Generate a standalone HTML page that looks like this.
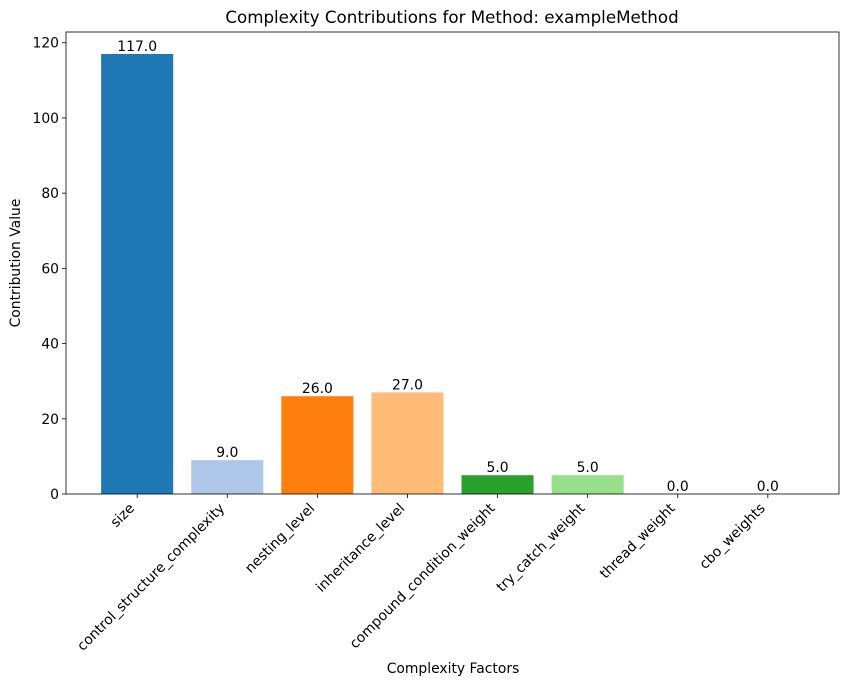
<!DOCTYPE html>
<html><head><meta charset="utf-8"><style>
body{margin:0;background:#fff;}
svg{display:block;font-family:"DejaVu Sans","Liberation Sans",sans-serif;}
</style></head><body>
<svg id="chart" width="850" height="686">
<text x="452" y="23" text-anchor="middle" font-size="16.7">Complexity Contributions for Method: exampleMethod</text>
<g id="bars"></g>
<g id="axes"></g>
<text x="453" y="673" text-anchor="middle" font-size="13.9">Complexity Factors</text>
<text transform="translate(20,263) rotate(-90)" text-anchor="middle" font-size="13.9">Contribution Value</text>
</svg>
<script>
const categories=["size","control_structure_complexity","nesting_level","inheritance_level","compound_condition_weight","try_catch_weight","thread_weight","cbo_weights"];
const values=[117,9,26,27,5,5,0,0];
const colors=["#1f77b4","#aec7e8","#ff7f0e","#ffbb78","#2ca02c","#98df8a","#d62728","#ff9896"];
const yTicks=[0,20,40,60,80,100,120];
const NS="http://www.w3.org/2000/svg";
const L=66,R=839,T=32,B=494;
const ymax=Math.max(...values)*1.05;
const y=v=>B-(v/ymax)*(B-T);
const xmin=-0.79,xmax=categories.length-1+0.79;
const x=i=>L+(i-xmin)/(xmax-xmin)*(R-L);
const unit=(R-L)/(xmax-xmin);
function mk(t,a,p){const e=document.createElementNS(NS,t);for(const k in a)e.setAttribute(k,a[k]);(p||document.getElementById('chart')).appendChild(e);return e;}
const bars=document.getElementById('bars'),axes=document.getElementById('axes');
categories.forEach((c,i)=>{
 const r=mk('rect',{x:x(i)-0.4*unit,y:y(values[i]),width:0.8*unit,height:B-y(values[i]),fill:colors[i]},bars);
 
 
 const t=mk('text',{x:x(i),y:y(values[i])-3,'text-anchor':'middle','font-size':'13.9'},bars);
 t.textContent=values[i].toFixed(1);
 
 
 mk('line',{x1:x(i),x2:x(i),y1:B,y2:B+4,stroke:'#000','stroke-width':0.8},axes);
 const lb=mk('text',{transform:`translate(${x(i)-2},${B+15}) rotate(-45)`,'text-anchor':'end','font-size':'13.9'},axes);
 lb.textContent=c;
 
 
});
yTicks.forEach(v=>{
 mk('line',{x1:L-4,x2:L,y1:y(v),y2:y(v),stroke:'#000','stroke-width':0.8},axes);
 const t=mk('text',{x:L-7,y:y(v)+5,'text-anchor':'end','font-size':'13.9'},axes);
 t.textContent=v;
 
 
});
const fr=mk('rect',{x:L,y:T,width:R-L,height:B-T,fill:'none',stroke:'#000','stroke-width':0.8},axes);


</script>
</body></html>
